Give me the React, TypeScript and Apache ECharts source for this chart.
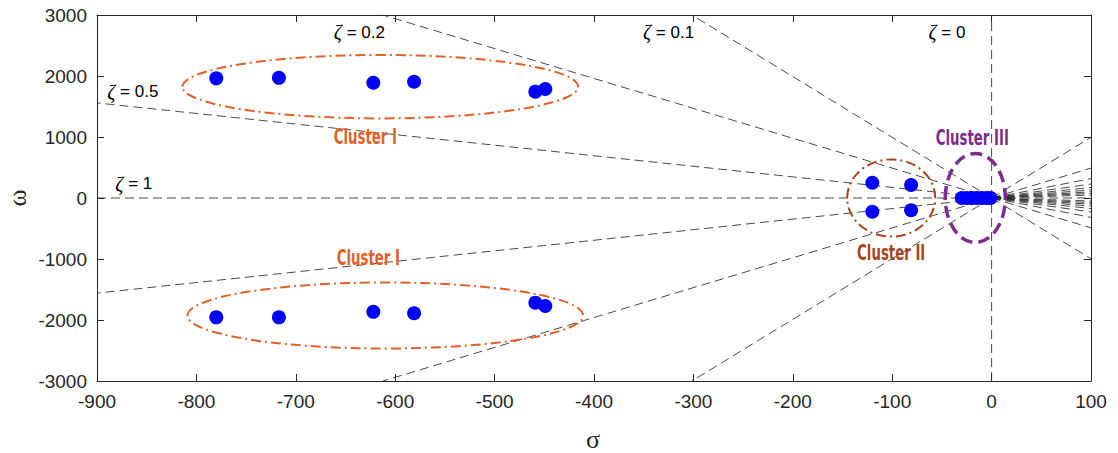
import React, { useEffect, useRef } from "react";
import * as echarts from "echarts";

// Axis ranges / ticks
const xTicks = [-900, -800, -700, -600, -500, -400, -300, -200, -100, 0, 100];
const yTicks = [-3000, -2000, -1000, 0, 1000, 2000, 3000];

// Poles (sigma, omega)
const sigmaUpper = [-780, -717, -622, -581, -459, -449];
const omegaUpper = [1962, 1970, 1890, 1905, 1743, 1787];
const sigmaLower = [-780, -717, -622, -581, -459, -449];
const omegaLower = [-1956, -1956, -1866, -1890, -1716, -1770];
const sigmaII = [-120, -81, -120, -81];
const omegaII = [250, 213, -225, -200];
const sigmaIII = [-30, -25, -20, -15, -10, -5, -1];
const omegaIII = [0, 0, 0, 0, 0, 0, 0];

// Damping-ratio grid lines
const zetaBoth = [0.1, 0.2, 0.5];
const zetaRightOnly = [0.3, 0.4, 0.6, 0.7, 0.8, 0.9];

// Zeta labels: [text value, sigma, omega]
const zetaLabelText = ["0.2", "0.1", "0", "0.5", "1"];
const zetaLabelSigma = [-636, -325, -45, -864, -863];
const zetaLabelOmega = [2721, 2721, 2721, 1738, 230];

// Cluster ellipses: center sigma, center omega, radius sigma, radius omega
const clusterNames = ["Cluster I", "Cluster I", "Cluster II", "Cluster III"];
const ellCx = [-615, -610, -101, -16.4];
const ellCy = [1825, -1926, 0, 0];
const ellRx = [199, 199, 44.3, 30.2];
const ellRy = [520, 541, 633, 730];
const ellColor = ["#E0622A", "#E0622A", "#A8451C", "#7B2D8E"];
const labelSigma = [-630, -627, -101, -19.4];
const labelOmega = [1016, -967, -893, 992];

const XMIN = -900, XMAX = 100, YMIN = -3000, YMAX = 3000;

function ray(dx: number, dy: number): number[][] {
  const xl = dx < 0 ? -XMIN : XMAX;
  const tx = dx === 0 ? Infinity : xl / Math.abs(dx);
  const ty = dy === 0 ? Infinity : YMAX / Math.abs(dy);
  const t = Math.min(tx, ty);
  return [[0, 0], [dx * t, dy * t]];
}

export default function App() {
  const ref = useRef<HTMLDivElement>(null);
  useEffect(() => {
    if (!ref.current) return;
    const chart = echarts.init(ref.current, null, { renderer: "svg" });
    const dash = { color: "#2a2a2a", width: 1, type: [9, 5] as any, opacity: 0.85 };
    const lineSeries: any[] = [];
    const addLine = (pts: number[][]) =>
      lineSeries.push({
        type: "line",
        data: pts,
        symbol: "none",
        lineStyle: dash,
        silent: true,
        z: 1,
        clip: true,
      });
    addLine([[0, YMIN], [0, YMAX]]);
    addLine([[XMIN, 0], [XMAX, 0]]);
    zetaBoth.forEach((z) => {
      const w = Math.sqrt(1 - z * z);
      addLine(ray(-z, w));
      addLine(ray(-z, -w));
      addLine(ray(z, w));
      addLine(ray(z, -w));
    });
    zetaRightOnly.forEach((z) => {
      const w = Math.sqrt(1 - z * z);
      addLine(ray(z, w));
      addLine(ray(z, -w));
    });

    const pts: number[][] = [];
    sigmaUpper.forEach((s, i) => pts.push([s, omegaUpper[i]]));
    sigmaLower.forEach((s, i) => pts.push([s, omegaLower[i]]));
    sigmaII.forEach((s, i) => pts.push([s, omegaII[i]]));
    sigmaIII.forEach((s, i) => pts.push([s, omegaIII[i]]));

    const axisCommon = {
      type: "value",
      splitLine: { show: false },
      axisLine: { show: true, onZero: false, lineStyle: { color: "#262626", width: 1 } },
      axisTick: { show: true, inside: true, length: 7, lineStyle: { color: "#262626" } },
    };

    chart.setOption({
      animation: false,
      grid: { left: 97, right: 27, top: 15, bottom: 72, containLabel: false },
      xAxis: [
        {
          ...axisCommon,
          position: "bottom",
          min: XMIN,
          max: XMAX,
          interval: 100,
          axisLabel: {
            color: "#262626",
            fontSize: 19,
            fontFamily: "Liberation Sans, Arial, sans-serif",
            margin: 11,
            formatter: (v: number) => (xTicks.includes(v) ? String(v) : ""),
          },
        },
        {
          ...axisCommon,
          position: "top",
          min: XMIN,
          max: XMAX,
          interval: 100,
          axisLabel: { show: false },
        },
      ],
      yAxis: [
        {
          ...axisCommon,
          position: "left",
          min: YMIN,
          max: YMAX,
          interval: 1000,
          axisLabel: {
            color: "#262626",
            fontSize: 19,
            fontFamily: "Liberation Sans, Arial, sans-serif",
            margin: 10,
            formatter: (v: number) => (yTicks.includes(v) ? String(v) : ""),
          },
        },
        {
          ...axisCommon,
          position: "right",
          min: YMIN,
          max: YMAX,
          interval: 1000,
          axisLabel: { show: false },
        },
      ],
      series: [
        ...lineSeries,
        {
          type: "scatter",
          data: pts,
          symbol: "circle",
          symbolSize: 14,
          itemStyle: { color: "#0000FF", opacity: 1 },
          z: 5,
        },
      ],
    });

    const px = (s: number, w: number) =>
      chart.convertToPixel({ xAxisIndex: 0, yAxisIndex: 0 }, [s, w]) as number[];

    const graphics: any[] = [];
    clusterNames.forEach((name, i) => {
      const c = px(ellCx[i], ellCy[i]);
      const e = px(ellCx[i] + ellRx[i], ellCy[i] + ellRy[i]);
      const isIII = i === 3;
      graphics.push({
        type: "ellipse",
        shape: { cx: c[0], cy: c[1], rx: Math.abs(e[0] - c[0]), ry: Math.abs(e[1] - c[1]) },
        style: {
          fill: "none",
          stroke: ellColor[i],
          lineWidth: isIII ? 3.5 : 2,
          lineDash: isIII ? [12, 6] : [10, 4, 2, 4],
        },
        z: 10,
        silent: true,
      });
      const l = px(labelSigma[i], labelOmega[i]);
      graphics.push({
        type: "text",
        x: l[0],
        y: l[1],
        scaleX: 0.74,
        scaleY: 1.05,
        style: {
          text: name,
          fill: ellColor[i],
          font: "bold 20px 'Liberation Sans Narrow', 'DejaVu Sans Condensed', sans-serif",
          textAlign: "center",
          textVerticalAlign: "middle",
        },
        z: 11,
        silent: true,
      });
    });

    zetaLabelText.forEach((t, i) => {
      const p = px(zetaLabelSigma[i], zetaLabelOmega[i]);
      graphics.push({
        type: "text",
        x: p[0],
        y: p[1],
        style: {
          text: "{z|ζ} = " + t,
          fill: "#000",
          fontSize: 17,
          fontFamily: "Liberation Sans, Arial, sans-serif",
          textAlign: "center",
          textVerticalAlign: "middle",
          rich: {
            z: { fontStyle: "italic", fontFamily: "Liberation Serif, serif", fontSize: 20, fill: "#000" },
          },
        },
        z: 11,
        silent: true,
      });
    });

    graphics.push({
      type: "text",
      x: 17.5,
      y: 198,
      rotation: Math.PI / 2,
      style: {
        text: "ω",
        fill: "#262626",
        fontSize: 26,
        fontFamily: "Liberation Serif, serif",
        textAlign: "center",
        textVerticalAlign: "middle",
      },
      silent: true,
    });
    graphics.push({
      type: "text",
      x: 593,
      y: 439,
      style: {
        text: "σ",
        fill: "#262626",
        fontSize: 26,
        fontFamily: "Liberation Serif, serif",
        textAlign: "center",
        textVerticalAlign: "middle",
      },
      silent: true,
    });

    chart.setOption({ graphic: graphics });

    return () => chart.dispose();
  }, []);

  return (
    <div
      ref={ref}
      style={{ position: "fixed", left: 0, top: 0, width: 1118, height: 453, background: "#fff" }}
    />
  );
}
